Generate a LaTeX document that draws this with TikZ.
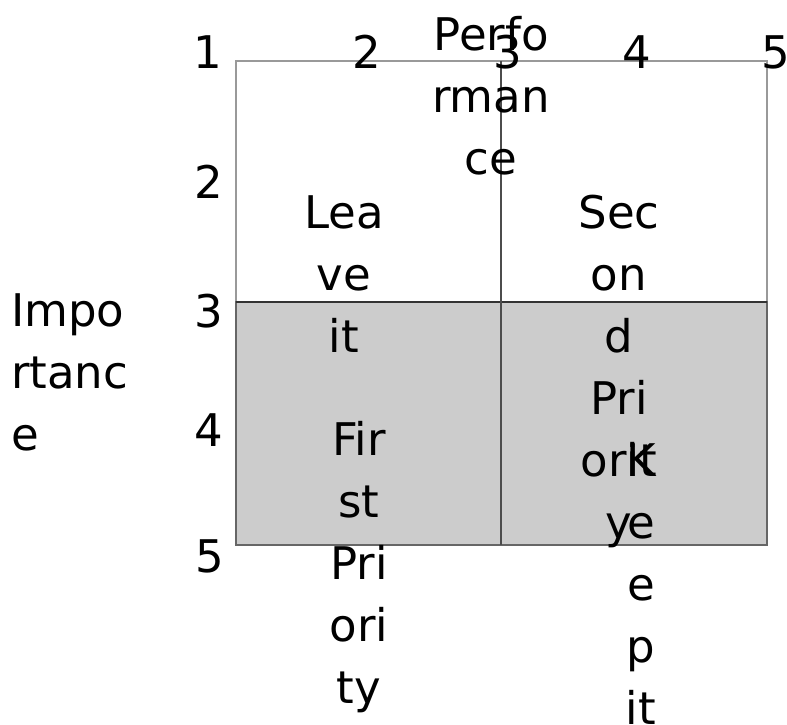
\documentclass[tikz,border=0pt]{standalone}
\usepackage{fontspec}
\setmainfont{DejaVu Sans}
\begin{document}
\begin{tikzpicture}[x=1pt,y=-1pt,
  lbl/.style={font=\fontsize{45}{62}\selectfont, inner sep=0pt, outer sep=0pt, align=center, anchor=north},
  tick/.style={font=\fontsize{45}{62}\selectfont, inner sep=0pt, outer sep=0pt, anchor=base},
  upperbox/.style={fill=white, draw=gray!80, line width=2pt},
  lowerbox/.style={fill=gray!40, draw=black!60, line width=2pt},
  midh/.style={draw=black!80, line width=2.2pt},
  midv/.style={draw=black!70, line width=1.5pt}]
\useasboundingbox (0,0) rectangle (787,724);
% quadrants
\path[upperbox] (236,61) rectangle (767,302);
\path[lowerbox] (236,302) rectangle (767,545);
\coordinate (hl) at (236,302);
\coordinate (hr) at (767,302);
\coordinate (vt) at (501,61);
\coordinate (vb) at (501,545);
\draw[midh] (hl) -- (hr);
\draw[midv] (vt) -- (vb);
% tick labels, top
\node[tick] (t1) at (208,68) {1};
\node[tick] (t2) at (367,68) {2};
\node[tick] (t3) at (508,68) {3};
\node[tick] (t4) at (637,68) {4};
\node[tick] (t5) at (776,68) {5};
% tick labels, left
\node[tick] (l2) at (209,198) {2};
\node[tick] (l3) at (209,327) {3};
\node[tick] (l4) at (209,446) {4};
\node[tick] (l5) at (210,572) {5};
% axis titles
\node[lbl] (perf) at (491,6.6) {\strut Perfo\\rman\\ce};
\node[lbl, align=left, anchor=north west] (imp) at (11,282.6) {\strut Impo\\rtanc\\e};
% quadrant labels
\node[lbl] (leave) at (344,184.6) {\strut Lea\\ve\\it};
\node[lbl] (second) at (619,184.6) {\strut Sec\\on\\d\\Pri\\orit\\y};
\node[lbl] (first) at (359,411.6) {\strut Fir\\st\\Pri\\ori\\ty};
\node[lbl] (keep) at (641,432.6) {\strut K\\e\\e\\p\\it};
\end{tikzpicture}
\end{document}
